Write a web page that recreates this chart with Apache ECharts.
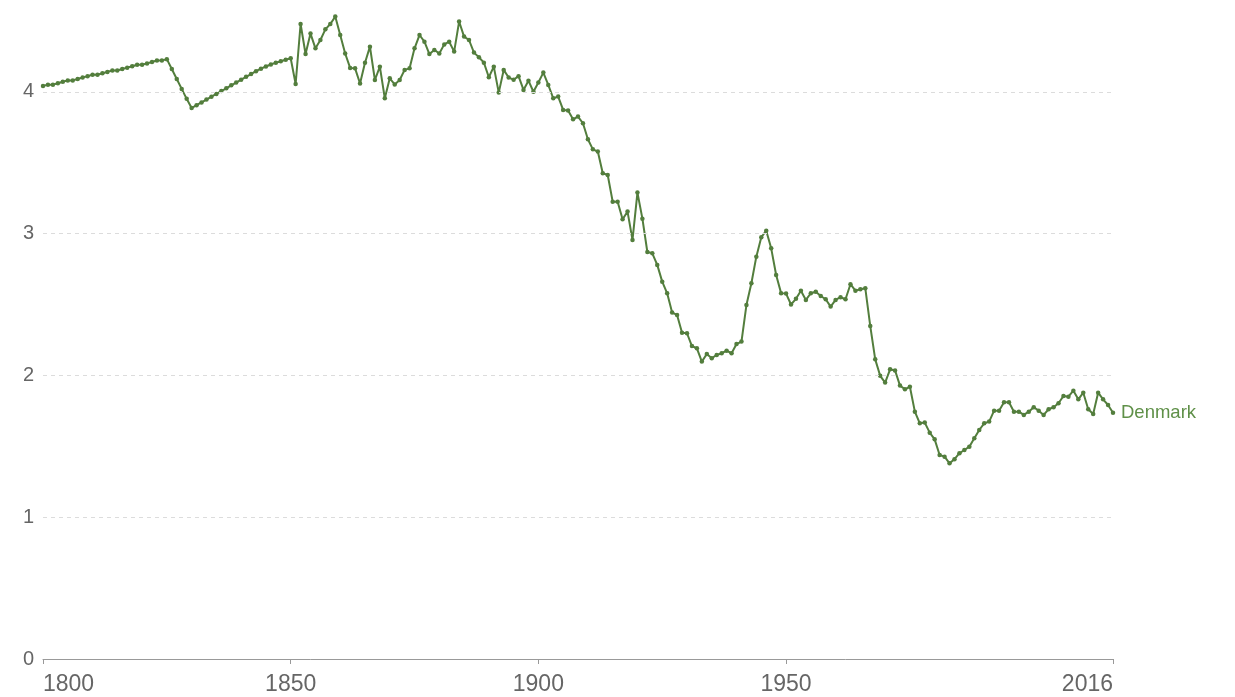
<!DOCTYPE html>
<html>
<head>
<meta charset="utf-8">
<script src="https://cdn.jsdelivr.net/npm/echarts@6/dist/echarts.min.js"></script>
<style>
html,body{margin:0;padding:0;background:#fff;}
#chart{width:1235px;height:697px;}
</style>
</head>
<body>
<div id="chart"></div>
<script>
// Children per woman, Denmark, one value per year
const startYear = 1800;
const fert1800_1849 = [
  4.04,4.05,4.05,4.06,4.07,4.08,4.08,4.09,4.10,4.11,
  4.12,4.12,4.13,4.14,4.15,4.15,4.16,4.17,4.18,4.19,
  4.19,4.20,4.21,4.22,4.22,4.23,4.16,4.09,4.02,3.95,
  3.885,3.905,3.925,3.945,3.965,3.985,4.005,4.024,4.045,4.065,
  4.085,4.105,4.125,4.145,4.163,4.178,4.192,4.205,4.215,4.226
];
const fert1850_1899 = [
  4.236,4.055,4.478,4.266,4.41,4.306,4.365,4.44,4.478,4.53,
  4.40,4.27,4.168,4.165,4.058,4.205,4.318,4.083,4.177,3.954,
  4.095,4.052,4.083,4.154,4.165,4.306,4.40,4.353,4.266,4.295,
  4.27,4.334,4.353,4.283,4.495,4.389,4.365,4.276,4.243,4.205,
  4.102,4.177,3.994,4.154,4.10,4.085,4.11,4.013,4.078,4.0
];
const fert1900_1949 = [
  4.065,4.135,4.048,3.954,3.966,3.872,3.867,3.806,3.825,3.778,
  3.665,3.594,3.578,3.425,3.413,3.225,3.225,3.101,3.155,2.955,
  3.289,3.105,2.87,2.861,2.779,2.661,2.579,2.443,2.426,2.301,
  2.297,2.207,2.191,2.097,2.151,2.121,2.144,2.156,2.174,2.156,
  2.221,2.238,2.496,2.65,2.837,2.974,3.02,2.896,2.708,2.58
];
const fert1950_1999 = [
  2.577,2.50,2.54,2.597,2.532,2.579,2.59,2.56,2.537,2.485,
  2.532,2.551,2.537,2.643,2.597,2.607,2.614,2.348,2.113,1.997,
  1.949,2.043,2.035,1.928,1.902,1.92,1.744,1.662,1.667,1.596,
  1.549,1.439,1.427,1.38,1.409,1.451,1.474,1.497,1.556,1.615,
  1.662,1.674,1.751,1.751,1.81,1.81,1.744,1.744,1.721,1.744
];
const fert2000_2016 = [
  1.775,1.751,1.721,1.761,1.775,1.803,1.855,1.85,1.892,1.831,
  1.878,1.761,1.728,1.878,1.831,1.791,1.737
];
const seriesName = 'Denmark';
const xTickLabels = [1800, 1850, 1900, 1950, 2016];
const yTickLabels = [0, 1, 2, 3, 4];
const yAxisMax = 4.647;

const values = [].concat(fert1800_1849, fert1850_1899, fert1900_1949, fert1950_1999, fert2000_2016);
const data = values.map((v, i) => [startYear + i, v]);

const lineColor = '#537e3d';
const chart = echarts.init(document.getElementById('chart'), null, {renderer: 'canvas'});
chart.setOption({
  animation: false,
  backgroundColor: '#ffffff',
  textStyle: {fontFamily: 'Liberation Sans, Arial, sans-serif'},
  grid: {left: 43, right: 122, top: 0, bottom: 38, containLabel: false},
  xAxis: {
    type: 'value',
    min: 1800,
    max: 2016,
    axisLine: {show: true, lineStyle: {color: '#999', width: 1}},
    axisTick: {show: true, length: 5, lineStyle: {color: '#999'}, customValues: xTickLabels},
    axisLabel: {
      show: true, customValues: xTickLabels, color: '#666', fontSize: 23, margin: 14,
      alignMinLabel: 'left', alignMaxLabel: 'right',
      formatter: v => String(v)
    },
    splitLine: {show: false}
  },
  yAxis: {
    type: 'value',
    min: 0,
    max: yAxisMax,
    axisLine: {show: false},
    axisTick: {show: false},
    axisLabel: {
      customValues: yTickLabels,
      color: '#666', fontSize: 20, margin: 9,
      formatter: v => String(v)
    },
    splitLine: {show: false}
  },
  series: [{
    name: seriesName,
    type: 'line',
    data: data,
    showSymbol: true,
    symbol: 'circle',
    symbolSize: 4.5,
    itemStyle: {color: lineColor},
    lineStyle: {color: lineColor, width: 2},
    endLabel: {
      show: true,
      formatter: () => seriesName,
      color: '#5f9048',
      fontSize: 18.5,
      distance: 8
    },
    markLine: {
      silent: true,
      symbol: ['none', 'none'],
      label: {show: false},
      lineStyle: {color: '#dcdcdc', type: [4, 4], width: 1},
      data: yTickLabels.filter(v => v > 0).map(v => ({yAxis: v}))
    },
    z: 3
  }]
});
</script>
</body>
</html>
